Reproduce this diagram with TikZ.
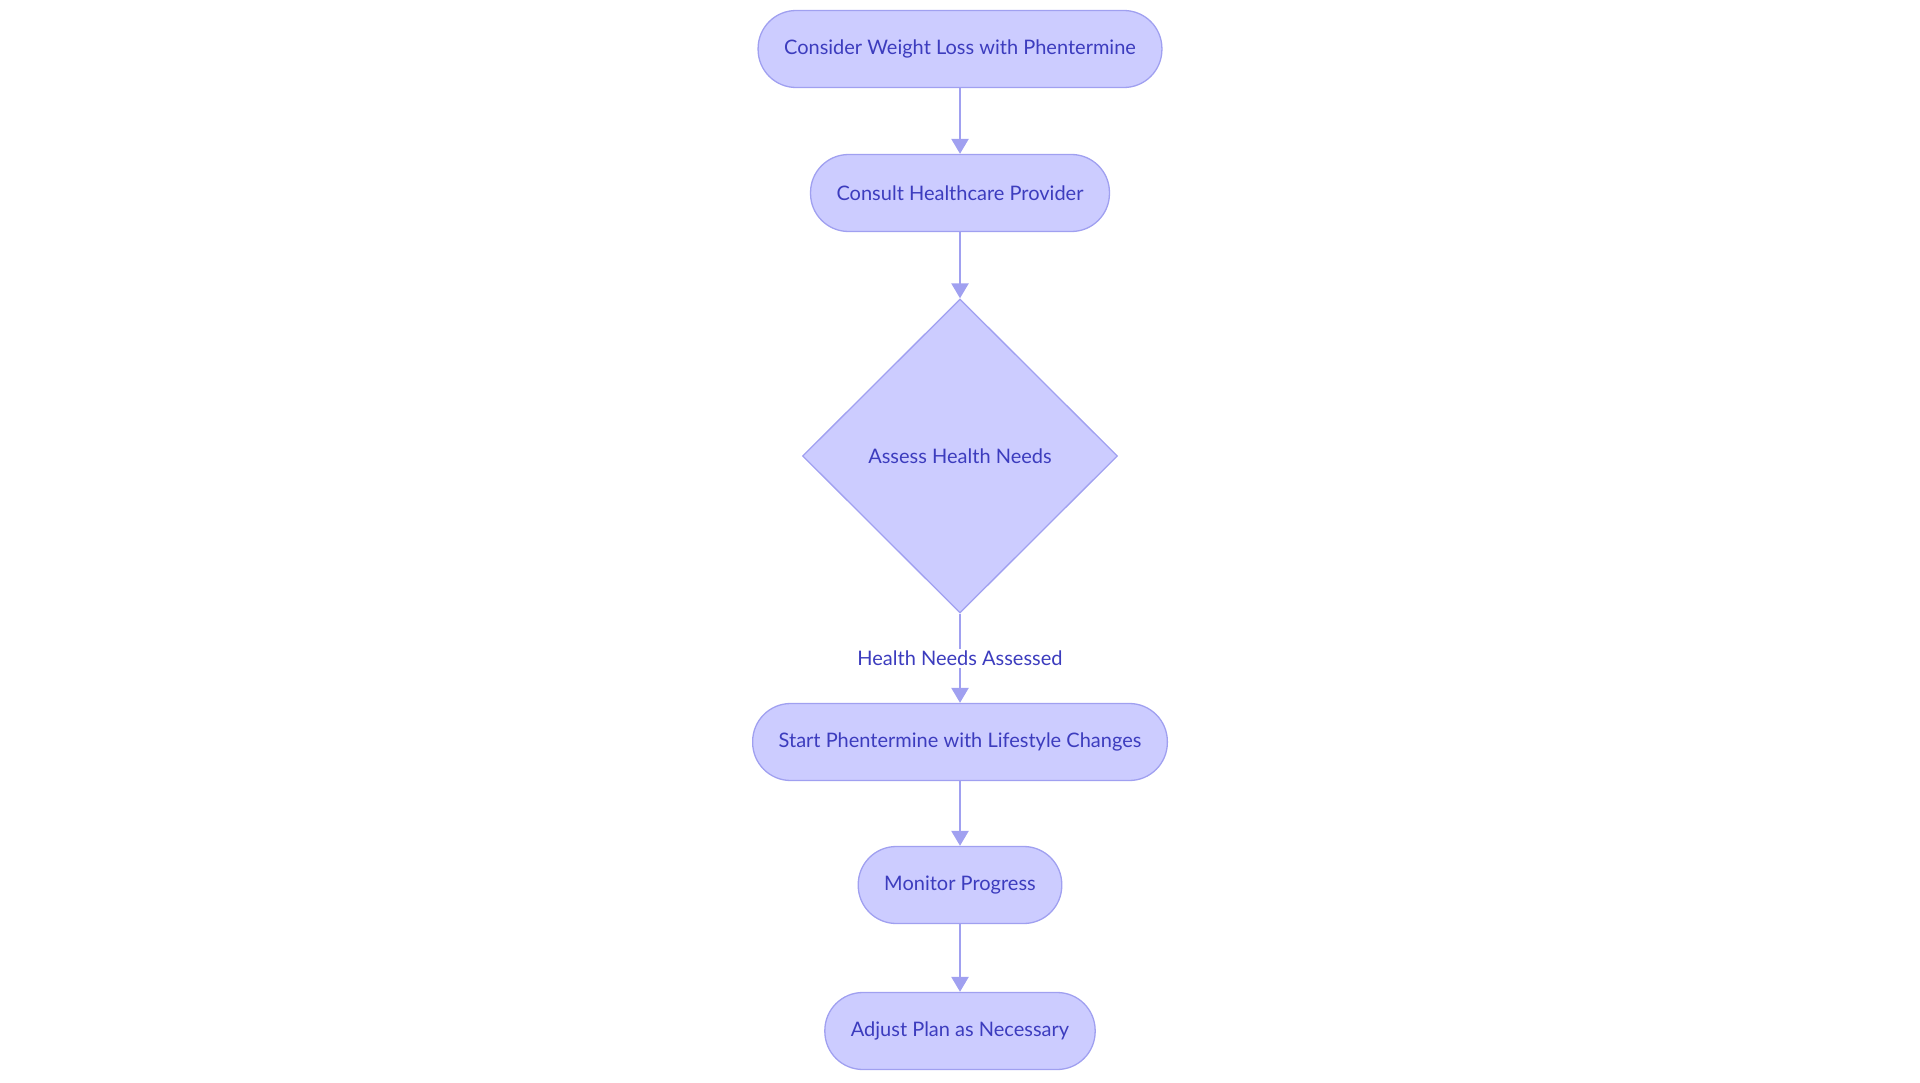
\documentclass[tikz,border=0pt]{standalone}
\usepackage{fontspec}
\setmainfont{Lato}
\usepackage{tikz}
\usetikzlibrary{shapes.geometric,arrows.meta}

\definecolor{boxfill}{RGB}{204,204,255}
\definecolor{boxline}{RGB}{160,160,240}
\definecolor{boxtext}{RGB}{60,60,190}

\begin{document}
\begin{tikzpicture}[x=1pt, y=-1pt,
	every node/.style={font=\fontsize{20}{24}\selectfont, text=boxtext},
	pill/.style={draw=boxline, fill=boxfill, line width=1.3pt, rectangle, rounded corners=38pt, minimum height=77pt, inner xsep=26pt},
	check/.style={draw=boxline, fill=boxfill, line width=1.3pt, diamond, minimum width=315pt, minimum height=314pt},
	flow/.style={draw=boxline, line width=2.5pt, -{Triangle[width=17pt,length=15pt]}}]

% Canvas
\useasboundingbox (0,0) rectangle (1920,1083);

% Steps
\node[pill] (consider) at (960, 49) {Consider Weight Loss with Phentermine};
\node[pill] (consult) at (960, 193) {Consult Healthcare Provider};
\node[check] (assess) at (960, 456) {Assess Health Needs};
\node[pill] (start) at (960, 742) {Start Phentermine with Lifestyle Changes};
\node[pill] (monitor) at (960, 885) {Monitor Progress};
\node[pill] (adjust) at (960, 1031) {Adjust Plan as Necessary};

% Arrows between steps
\foreach \a/\b in {consider/consult, consult/assess, start/monitor, monitor/adjust} {
	\draw[flow] (\a) -- (\b);
}
\draw[flow] (assess) -- node[fill=white, pos=0.5, inner sep=2pt] (assessed) {Health Needs Assessed} (start);

\end{tikzpicture}
\end{document}
